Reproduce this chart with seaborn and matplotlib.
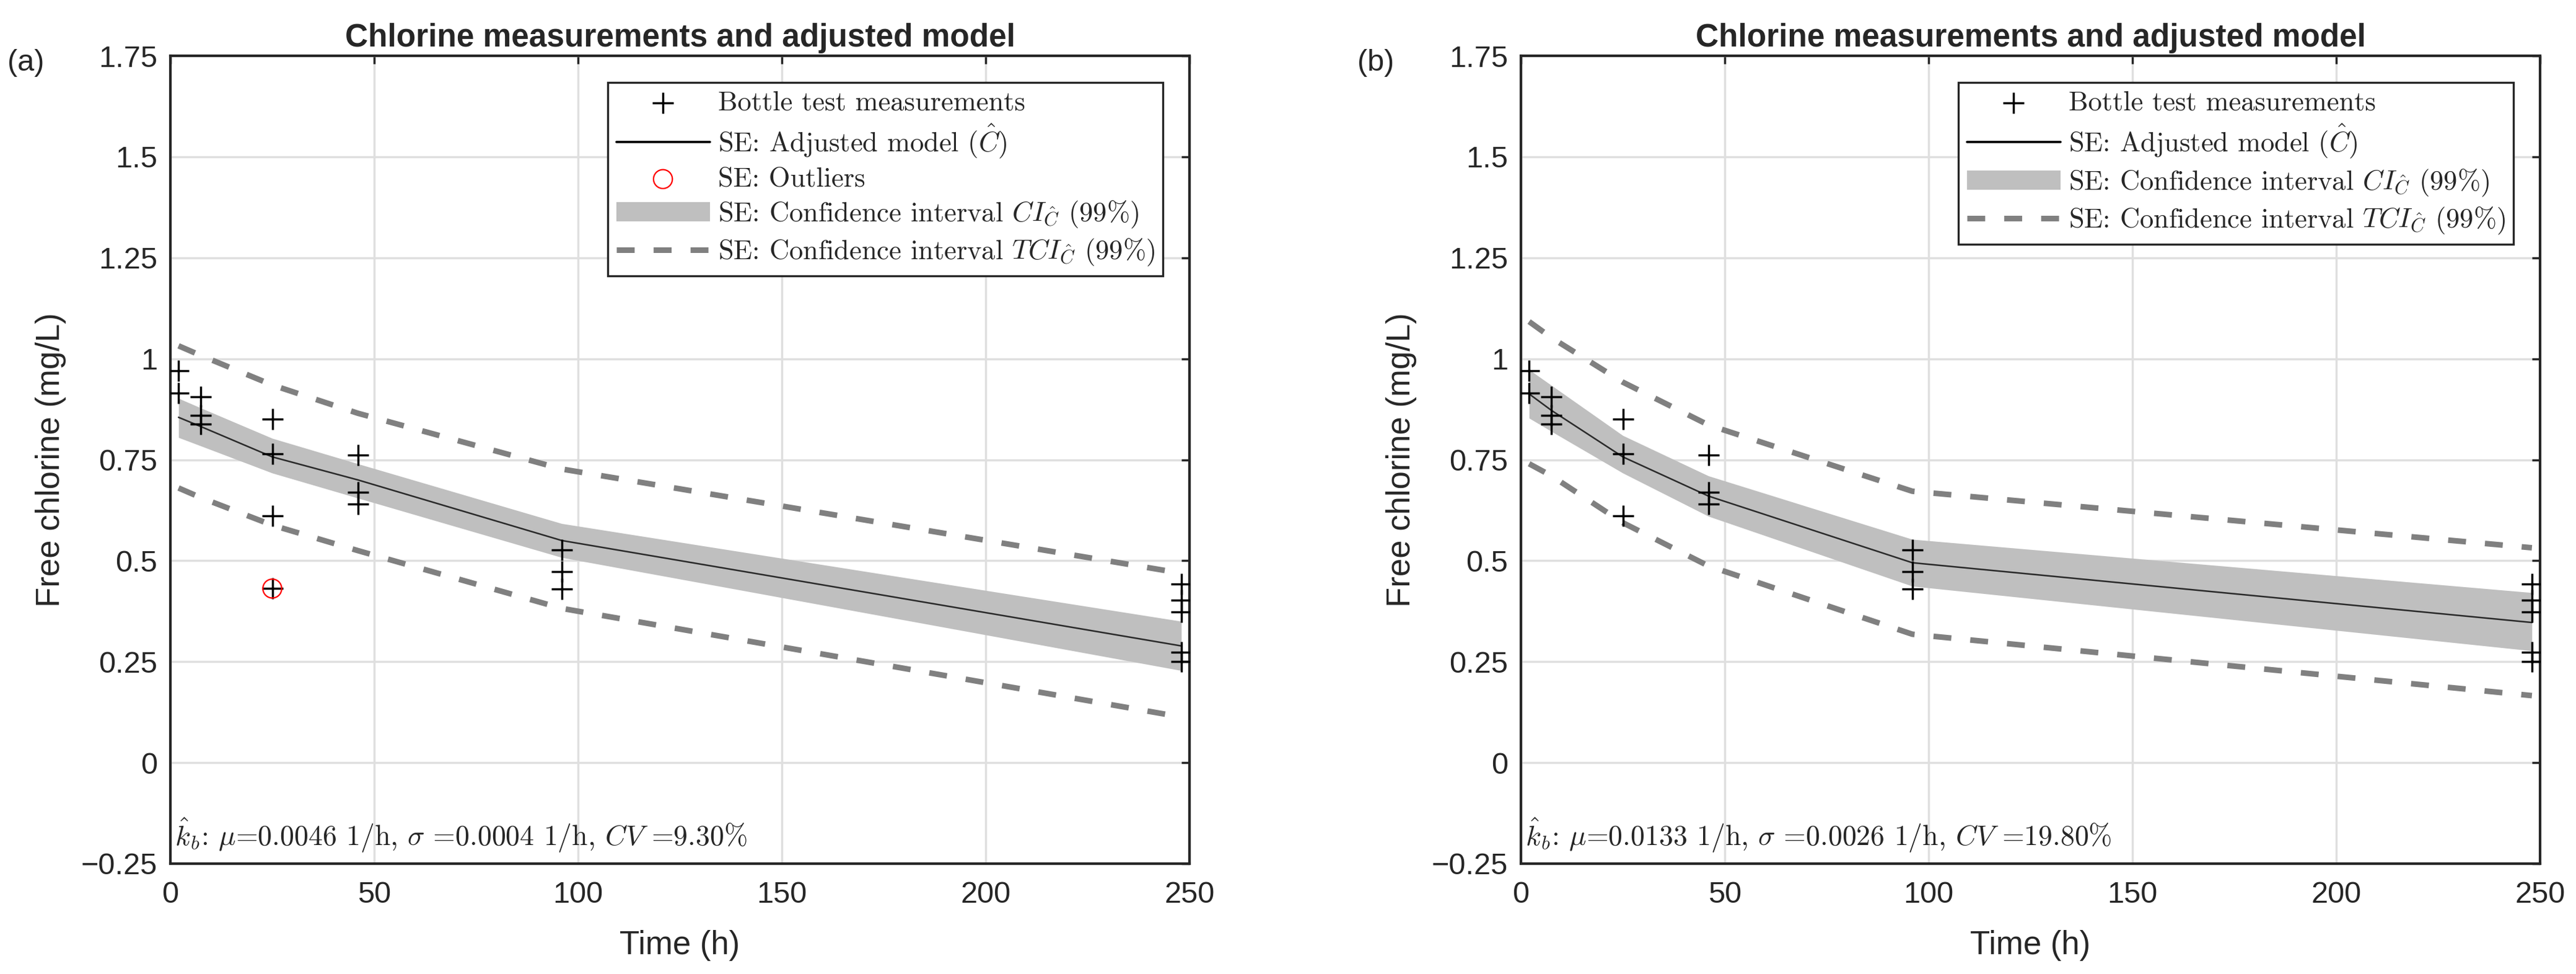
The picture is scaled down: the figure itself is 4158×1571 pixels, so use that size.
# Chlorine decay: bottle test measurements and adjusted model, two panels
import numpy as np
import pandas as pd
import seaborn as sb
import matplotlib.pyplot as plt
from matplotlib.patches import Patch
from matplotlib.lines import Line2D

# bottle test measurements (same for both panels)
meas_t = [2, 2, 7.5, 7.5, 7.5, 25, 25, 25, 46, 46, 46, 96, 96, 96,
          248, 248, 248, 248, 248]
meas_c = [0.97, 0.915, 0.906, 0.86, 0.839, 0.85, 0.764, 0.611, 0.761, 0.669, 0.641,
          0.527, 0.473, 0.43, 0.443, 0.402, 0.373, 0.274, 0.25]
# outlier (only in panel a)
out_t = [25]
out_c = [0.431]

model_t = [2, 7.5, 25, 46, 96, 248]

# panel (a)
a_model = [0.855, 0.832, 0.757, 0.700, 0.550, 0.289]
a_ci_lo = [0.805, 0.784, 0.717, 0.655, 0.508, 0.228]
a_ci_hi = [0.902, 0.878, 0.803, 0.740, 0.592, 0.350]
a_tci_lo = [0.680, 0.656, 0.588, 0.525, 0.382, 0.113]
a_tci_hi = [1.032, 1.008, 0.935, 0.865, 0.727, 0.469]
a_kb = r'$\hat{k}_b$: $\mu$=0.0046 1/h, $\sigma$ =0.0004 1/h, $CV$ =9.30%'

# panel (b)
b_model = [0.913, 0.872, 0.757, 0.660, 0.495, 0.347]
b_ci_lo = [0.853, 0.820, 0.717, 0.610, 0.437, 0.277]
b_ci_hi = [0.973, 0.934, 0.810, 0.710, 0.553, 0.421]
b_tci_lo = [0.740, 0.710, 0.594, 0.487, 0.318, 0.166]
b_tci_hi = [1.092, 1.052, 0.942, 0.836, 0.672, 0.532]
b_kb = r'$\hat{k}_b$: $\mu$=0.0133 1/h, $\sigma$ =0.0026 1/h, $CV$ =19.80%'

x_ticks = [0, 50, 100, 150, 200, 250]
y_ticks = [-0.25, 0, 0.25, 0.5, 0.75, 1, 1.25, 1.5, 1.75]
y_ticklabels = ['\u22120.25', '0', '0.25', '0.5', '0.75', '1', '1.25', '1.5', '1.75']

title = 'Chlorine measurements and adjusted model'
lab_meas = 'Bottle test measurements'
lab_model = r'SE: Adjusted model ($\hat{C}$)'
lab_out = 'SE: Outliers'
lab_ci = r'SE: Confidence interval $CI_{\hat{C}}$ (99%)'
lab_tci = r'SE: Confidence interval $TCI_{\hat{C}}$ (99%)'

sb.set_style("white")
plt.rcParams['font.family'] = ['Liberation Sans', 'DejaVu Sans']
plt.rcParams['mathtext.fontset'] = 'cm'
plt.rcParams['axes.formatter.use_mathtext'] = True

AX_COL = '#262626'
BAND = '#bfbfbf'
DASH = '#808080'


def panel(ax, tag, model, ci_lo, ci_hi, tci_lo, tci_hi, pts_t, pts_c, kb, outliers=None):
    df = pd.DataFrame({'t': model_t, 'model': model, 'ci_lo': ci_lo, 'ci_hi': ci_hi,
                       'tci_lo': tci_lo, 'tci_hi': tci_hi})

    ax.fill_between(df['t'], df['ci_lo'], df['ci_hi'], color=BAND, lw=0, zorder=1)
    for col in ['tci_lo', 'tci_hi']:
        sb.lineplot(data=df, x='t', y=col, ax=ax, color=DASH, lw=6.5, errorbar=None,
                    linestyle=(0, (3.2, 3.4)), zorder=2)
    h_tci = ax.lines[-1]
    sb.lineplot(data=df, x='t', y='model', ax=ax, color='#2a2a2a', lw=1.8,
                errorbar=None, zorder=3)

    sb.scatterplot(x=pts_t, y=pts_c, ax=ax, marker='+', s=620, color='k',
                   linewidth=2.5, zorder=4)
    h_meas = ax.collections[-1]

    handles = [h_meas, Line2D([], [], color='k', lw=2.6)]
    labels = [lab_meas, lab_model]
    if outliers is not None:
        sb.scatterplot(x=outliers[0], y=outliers[1], ax=ax, marker='o', s=480,
                       color='red', linewidth=1.6, zorder=5)
        h_out = ax.collections[-1]
        h_out.set_facecolor('none')
        h_out.set_edgecolor('red')
        handles.append(h_out)
        labels.append(lab_out)
    handles += [Patch(facecolor=BAND, edgecolor='none'), h_tci]
    labels += [lab_ci, lab_tci]

    # legend with the LaTeX look
    leg = ax.legend(handles, labels, loc='upper right', bbox_to_anchor=(0.974, 0.967),
                    borderaxespad=0, prop={'family': 'cmr10', 'size': 32},
                    handlelength=3.4, handletextpad=0.3, borderpad=0.3,
                    labelspacing=0.25, fancybox=False, framealpha=1,
                    edgecolor=AX_COL, scatterpoints=1)
    leg.get_frame().set_linewidth(2.4)

    ax.text(1, -0.205, kb, fontsize=33, family='cmr10', ha='left', va='baseline',
            color='#262626')

    ax.set_xlim(0, 250)
    ax.set_ylim(-0.25, 1.75)
    ax.set_xticks(x_ticks)
    ax.set_xticklabels([str(v) for v in x_ticks])
    ax.set_yticks(y_ticks)
    ax.set_yticklabels(y_ticklabels)
    ax.grid(True, color='#dfdfdf', lw=2.5)
    ax.set_axisbelow(True)
    for sp in ax.spines.values():
        sp.set_visible(True)
        sp.set_color(AX_COL)
        sp.set_linewidth(3)
    ax.tick_params(axis='both', direction='in', length=9.4, width=2.5, top=True,
                   right=True, labelsize=35, colors=AX_COL)
    ax.tick_params(axis='x', pad=20)
    ax.tick_params(axis='y', pad=15)

    ax.set_xlabel('Time (h)', fontsize=38, color=AX_COL)
    ax.set_ylabel('Free chlorine (mg/L)', fontsize=38, color=AX_COL)
    ax.xaxis.set_label_coords(0.5, -0.082)
    ax.yaxis.set_label_coords(-0.102, 0.5)
    ax.set_title(title, fontsize=37, fontweight='bold', pad=11)


fig = plt.figure(figsize=(41.58, 15.71), dpi=100)
W, H = 4158, 1571
ax_a = fig.add_axes([275 / W, 178 / H, 1645 / W, 1303 / H])
ax_b = fig.add_axes([2455 / W, 178 / H, 1645 / W, 1303 / H])

panel(ax_a, '(a)', a_model, a_ci_lo, a_ci_hi, a_tci_lo, a_tci_hi,
      meas_t + out_t, meas_c + out_c, a_kb, outliers=(out_t, out_c))
panel(ax_b, '(b)', b_model, b_ci_lo, b_ci_hi, b_tci_lo, b_tci_hi,
      meas_t, meas_c, b_kb)

fig.text(12 / W, 1 - 101 / H, '(a)', fontsize=35, ha='left', va='center', color=AX_COL)
fig.text(2191 / W, 1 - 101 / H, '(b)', fontsize=35, ha='left', va='center', color=AX_COL)

fig.savefig('out.png', dpi=100)
